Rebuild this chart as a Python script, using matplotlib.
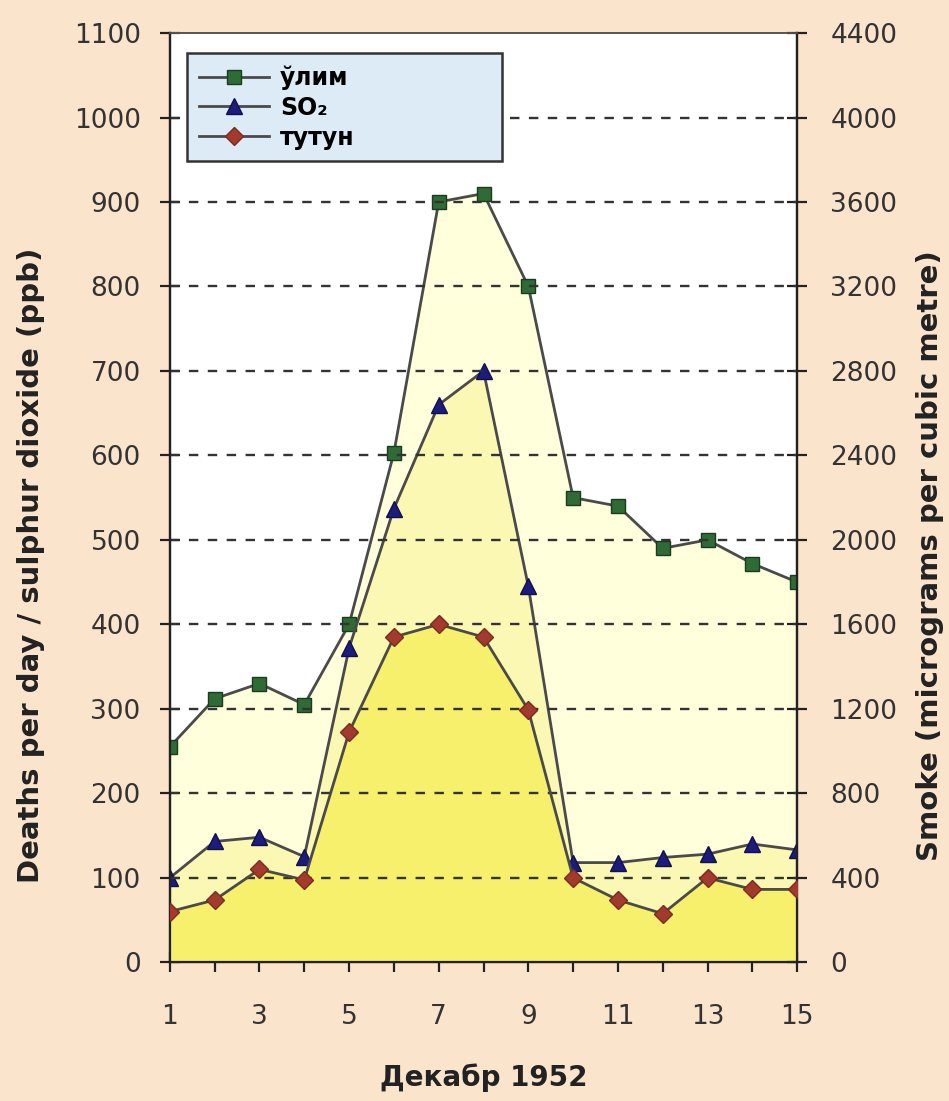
import matplotlib
matplotlib.use('Agg')
import matplotlib.pyplot as plt
from matplotlib.lines import Line2D

# Декабр 1952 - London smog
days = list(range(1, 16))
deaths = [255, 312, 330, 305, 400, 603, 900, 910, 800, 550, 540, 490, 500, 472, 450]
so2 = [100, 143, 148, 125, 372, 537, 660, 700, 445, 118, 118, 124, 128, 140, 133]
smoke = [240, 295, 440, 390, 1090, 1540, 1600, 1540, 1195, 400, 295, 230, 400, 345, 345]

left_ticks = list(range(0, 1200, 100))
right_ticks = list(range(0, 4800, 400))
x_labels = [str(d) if d % 2 == 1 else '' for d in days]

bg = '#FBE4CC'
line_col = '#4A4A4A'

plt.rcParams['font.family'] = ['DejaVu Sans']

fig = plt.figure(figsize=(9.49, 11.01), dpi=100, facecolor=bg)
ax = fig.add_axes([0.179, 0.126, 0.661, 0.844])
ax.set_facecolor('white')
ax2 = ax.twinx()

# fills (deaths, SO2 on left axis; smoke on right axis)
ax.fill_between(days, 0, deaths, color='#FFFFDC', lw=0, zorder=1)
ax.fill_between(days, 0, so2, color='#FBF8B4', lw=0, zorder=1.5)
ax2.fill_between(days, 0, smoke, color='#F6F06C', lw=0, zorder=1)

# dashed gridlines on top of the fills
for t in right_ticks[1:-1]:
    ax2.axhline(t, color='#333333', lw=1.7, ls=(0, (4, 4)), zorder=1.6)

ax.plot(days, deaths, color=line_col, lw=2, marker='s', ms=10,
        mfc='#2F6B35', mec='#1B3A1E', mew=1, zorder=3)
ax.plot(days, so2, color=line_col, lw=2, marker='^', ms=11,
        mfc='#1C1C7C', mec='#10104A', mew=1, zorder=3)
ax2.plot(days, smoke, color=line_col, lw=2, marker='D', ms=9,
         mfc='#A33A2E', mec='#7A2A20', mew=1, zorder=3)

ax.set_xlim(1, 15)
ax.set_ylim(0, 1100)
ax2.set_ylim(0, 4400)

ax.set_xticks(days)
ax.set_xticklabels(x_labels)
ax.set_yticks(left_ticks)
ax2.set_yticks(right_ticks)

for a in (ax, ax2):
    for s in a.spines.values():
        s.set_color('#222222')
        s.set_linewidth(1.6)
    a.spines['top'].set_linewidth(1.2)
    a.spines['top'].set_color('#555555')

ax.tick_params(axis='y', direction='inout', length=14, width=1.6, color='#222222',
               labelsize=19, labelcolor='#333333', pad=14)
ax.tick_params(axis='x', direction='inout', length=14, width=1.6, color='#222222',
               labelsize=19, labelcolor='#333333', pad=23)
ax2.tick_params(axis='y', direction='inout', length=14, width=1.6, color='#222222',
                labelsize=19, labelcolor='#333333', pad=17)

ax.set_ylabel('Deaths per day / sulphur dioxide (ppb)', fontsize=21,
              fontweight='bold', color='#222222')
ax.yaxis.set_label_coords(-0.199, 0.427)
ax2.set_ylabel('Smoke (micrograms per cubic metre)', fontsize=21,
               fontweight='bold', color='#222222')
ax2.yaxis.set_label_coords(1.19, 0.438)
ax.set_xlabel('Декабр 1952', fontsize=20, fontweight='bold', color='#222222', labelpad=24)

handles = [
    Line2D([], [], color=line_col, lw=2, marker='s', ms=10, mfc='#2F6B35', mec='#1B3A1E'),
    Line2D([], [], color=line_col, lw=2, marker='^', ms=11, mfc='#1C1C7C', mec='#10104A'),
    Line2D([], [], color=line_col, lw=2, marker='D', ms=9, mfc='#A33A2E', mec='#7A2A20'),
]
labels = ['ўлим', 'SO₂', 'тутун']
leg = ax2.legend(handles, labels, loc='upper left', bbox_to_anchor=(0.027, 0.978, 0.503, 0.0),
                 mode='expand', fancybox=False, framealpha=1, facecolor='#DDEBF7',
                 edgecolor='#333333', prop={'weight': 'bold', 'size': 17}, handlelength=3.0,
                 labelspacing=0.25, borderpad=0.5, handletextpad=0.45, borderaxespad=0)
leg.get_frame().set_linewidth(1.8)

fig.savefig('out.png', dpi=100, facecolor=bg)
